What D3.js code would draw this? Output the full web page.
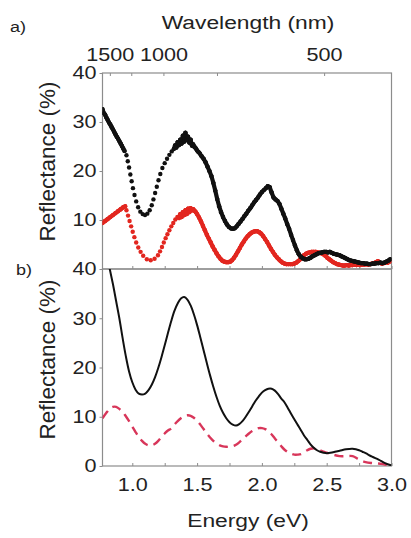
<!DOCTYPE html>
<html>
<head>
<meta charset="utf-8">
<script src="https://cdn.jsdelivr.net/npm/d3@7"></script>
<style>
  html, body { margin: 0; padding: 0; background: #fff; }
  svg text { font-family: "Liberation Sans", Arial, sans-serif; fill: #222; }
  .sx  { transform-box: fill-box; transform-origin: center;       transform: scaleX(1.2); }
  .sxr { transform-box: fill-box; transform-origin: right center; transform: scaleX(1.2); }
</style>
</head>
<body>
<svg id="chart" width="411" height="538"></svg>
<script>
// ---- measured reflectance, panel a) (energy in eV, reflectance in %) ----
const measBlackE = [0.770,0.780,0.790,0.800,0.810,0.820,0.830,0.840,0.850,0.860,0.870,0.880,0.890,0.900,0.910,0.920,0.930,0.940,
  0.955,0.965,0.975,0.985,0.995,1.005,1.017,1.030,1.045,1.062,1.080,1.098,1.116,1.134,1.150,1.163,1.176,1.189,1.202,1.216,1.232,1.250,1.268,1.286,1.304,
  1.320,1.330,1.340,1.350,1.360,1.370,1.380,1.390,1.400,1.410,1.420,1.430,1.440,1.450,1.460,1.470,1.480,1.490,1.500,1.510,1.520,
  1.535,1.550,1.565,1.580,1.595,1.610,1.625,1.640,1.655,1.670,1.685,1.700,1.715,1.730,1.745,1.760,1.775,1.790,1.805,1.820,1.835,1.850,1.865,1.880,1.895,
  1.910,1.925,1.940,1.955,1.970,1.985,2.000,2.015,2.030,2.045,2.060,2.075,2.090,2.105,2.120,2.135,2.150,2.165,2.180,2.195,2.210,2.225,2.240,2.255,2.270,
  2.285,2.300,2.315,2.330,2.345,2.360,2.375,2.390,2.405,2.420,2.435,2.450,2.465,2.480,2.495,2.510,2.525,2.540,2.555,2.570,2.585,2.600,2.615,2.630,2.645,
  2.660,2.675,2.690,2.705,2.720,2.735,2.750,2.765,2.780,2.795,2.810,2.825,2.840,2.855,2.870,2.885,2.900,2.915,2.930,2.945,2.960,2.975,2.990];
const measBlackR = [32.6,31.8,31.5,30.9,30.4,29.9,29.5,29.0,28.5,28.0,27.5,27.0,26.6,26.1,25.6,25.1,24.6,24.1,
  23.2,22.0,20.7,19.3,17.9,16.5,15.1,13.8,12.6,11.7,11.2,11.0,11.3,12.0,13.0,14.2,15.5,16.8,18.1,19.4,20.6,21.6,22.5,23.3,24.0,
  24.5,25.2,24.8,25.9,25.3,26.4,25.6,27.2,26.0,27.8,26.3,27.0,25.8,26.4,25.2,25.4,24.9,24.6,24.2,23.9,23.6,
  23.0,22.5,21.8,20.9,20.0,19.0,17.6,16.0,14.3,12.8,11.6,10.6,9.8,9.1,8.6,8.3,8.2,8.3,8.7,9.2,9.7,10.2,10.8,11.3,11.9,
  12.4,13.0,13.6,14.1,14.6,15.2,15.7,16.1,16.5,16.9,16.7,15.6,14.6,14.2,13.9,13.3,12.3,11.3,10.3,9.2,8.2,7.0,5.9,4.8,3.8,
  3.0,2.5,2.2,2.0,2.0,2.1,2.3,2.6,2.8,3.0,3.2,3.3,3.4,3.5,3.5,3.4,3.5,3.3,3.1,3.0,2.9,2.8,2.6,2.4,2.2,
  2.0,1.8,1.7,1.6,1.5,1.4,1.3,1.2,1.2,1.1,1.1,1.0,1.0,1.1,1.1,1.2,1.2,1.3,1.2,1.3,1.5,1.7,2.0];

const measRedE = [0.770,0.790,0.810,0.830,0.850,0.870,0.890,0.910,0.930,0.945,
  0.955,0.967,0.979,0.991,1.003,1.016,1.030,1.046,1.064,1.084,1.112,1.142,1.172,1.198,1.214,1.229,1.243,1.257,1.271,1.286,1.301,1.316,1.332,1.348,
  1.360,1.370,1.380,1.390,1.400,1.410,1.420,1.430,1.440,1.450,1.460,1.470,1.480,1.490,1.500,
  1.515,1.530,1.545,1.560,1.575,1.590,1.605,1.620,1.635,1.650,1.665,1.680,1.695,1.710,1.725,1.740,1.755,1.770,1.785,1.800,
  1.815,1.830,1.845,1.860,1.875,1.890,1.905,1.920,1.935,1.950,1.965,1.980,1.995,2.010,2.025,2.040,2.055,2.070,2.085,2.100,
  2.115,2.130,2.145,2.160,2.175,2.190,2.205,2.220,2.235,2.250,2.265,2.280,2.295,2.310,2.325,2.340,2.355,2.370,2.385,2.400,
  2.415,2.430,2.445,2.460,2.475,2.490,2.505,2.520,2.535,2.550,2.565,2.580,2.595,2.610,2.625,2.640,2.655,2.670,2.685,2.700,
  2.715,2.730,2.745,2.760,2.775,2.790,2.805,2.820,2.835,2.850,2.865,2.880,2.895,2.910,2.925,2.940,2.955,2.970,2.985];
const measRedR = [9.4,9.8,10.2,10.6,11.0,11.4,11.8,12.2,12.6,12.8,
  12.0,10.9,9.8,8.7,7.6,6.5,5.4,4.4,3.5,2.7,2.0,1.8,2.1,2.8,3.6,4.5,5.4,6.3,7.1,7.9,8.7,9.4,10.1,10.6,
  10.4,11.2,10.6,11.6,11.0,12.0,11.2,12.3,11.6,12.4,12.0,12.2,11.9,11.6,11.2,
  10.5,9.7,8.8,7.9,7.0,6.2,5.4,4.6,3.9,3.2,2.6,2.1,1.7,1.5,1.4,1.4,1.5,1.8,2.3,2.9,
  3.6,4.3,5.0,5.6,6.2,6.7,7.1,7.4,7.6,7.7,7.7,7.5,7.2,6.7,6.1,5.5,4.8,4.1,3.5,2.9,
  2.4,2.0,1.6,1.3,1.1,1.0,1.0,1.0,1.0,1.1,1.3,1.6,2.0,2.4,2.8,3.1,3.3,3.4,3.5,3.5,
  3.5,3.4,3.3,3.2,3.0,2.7,2.3,2.0,1.7,1.4,1.2,1.0,0.9,0.8,0.7,0.7,0.8,0.7,0.8,0.8,
  0.9,0.8,0.9,0.8,0.9,0.9,1.0,0.9,1.0,1.1,1.2,1.4,1.6,1.3,1.1,1.2,1.4,1.3,1.5];

// ---- calculated reflectance, panel b) ----
const calcBlackE = [0.800,0.826,0.850,0.875,0.900,0.925,0.950,0.975,1.000,1.025,1.050,1.075,1.100,1.125,1.150,1.175,1.200,1.225,1.250,1.275,
  1.300,1.325,1.350,1.375,1.400,1.425,1.450,1.475,1.500,1.525,1.550,1.575,1.600,1.625,1.650,1.675,1.700,1.725,1.750,1.775,
  1.800,1.825,1.850,1.875,1.900,1.925,1.950,1.975,2.000,2.025,2.050,2.075,2.100,2.125,2.150,2.175,2.200,2.225,2.250,2.275,
  2.300,2.325,2.350,2.375,2.400,2.425,2.450,2.475,2.500,2.550,2.600,2.650,2.700,2.725,2.750,2.775,2.800,2.850,2.900,2.950,3.000];
const calcBlackR = [43.5,40.0,37.0,33.5,30.0,26.0,22.3,19.2,17.0,15.5,14.7,14.5,14.7,15.4,16.5,18.0,19.9,22.1,24.5,27.0,
  29.4,31.5,33.0,34.0,34.3,33.8,32.6,30.8,28.6,26.1,23.5,20.9,18.4,16.1,14.0,12.2,10.8,9.7,8.9,8.4,
  8.2,8.5,9.1,10.0,11.0,12.1,13.2,14.1,14.9,15.4,15.7,15.7,15.3,14.6,13.7,12.9,11.8,10.6,9.5,8.4,
  7.3,6.2,5.3,4.4,3.7,3.2,2.9,2.7,2.6,2.8,3.1,3.4,3.5,3.4,3.2,2.9,2.6,1.9,1.3,0.6,0.1];

const calcRedE = [0.770,0.800,0.825,0.850,0.875,0.900,0.925,0.950,0.975,1.000,1.025,1.050,1.075,1.100,1.125,1.150,1.175,1.200,1.225,1.250,1.275,
  1.300,1.325,1.350,1.375,1.400,1.425,1.450,1.475,1.500,1.525,1.550,1.575,1.600,1.625,1.650,1.675,1.700,1.725,1.750,1.775,
  1.800,1.825,1.850,1.875,1.900,1.925,1.950,1.975,2.000,2.025,2.050,2.075,2.100,2.125,2.150,2.175,2.200,2.225,2.250,2.275,
  2.300,2.325,2.350,2.375,2.400,2.425,2.450,2.475,2.500,2.525,2.550,2.600,2.650,2.700,2.750,2.800,2.850,2.900,2.950,3.000];
const calcRedR = [9.7,10.8,11.6,12.0,12.0,11.6,11.0,10.1,9.1,8.0,6.9,5.9,5.1,4.5,4.2,4.2,4.5,5.1,5.9,6.6,7.2,
  7.6,8.4,9.1,9.7,10.1,10.3,10.2,9.8,9.2,8.4,7.5,6.6,5.8,5.1,4.6,4.2,4.0,3.9,3.9,4.0,
  4.3,4.8,5.4,6.0,6.6,7.1,7.5,7.7,7.7,7.5,7.0,6.4,5.6,4.8,4.0,3.3,2.8,2.5,2.3,2.3,
  2.4,2.8,3.2,3.5,3.6,3.5,3.2,2.9,2.7,2.5,2.3,2.0,2.0,2.0,1.3,0.8,0.6,0.5,0.3,0.1];

// ---- axis ticks ----
const energyTicks = [1.0,1.25,1.5,1.75,2.0,2.25,2.5,2.75,3.0];
const energyLabels = ["1.0","","1.5","","2.0","","2.5","","3.0"];
const wavelengthTicks = [1500,1250,1000,750,500];
const wavelengthLabels = ["1500","","1000","","500"];
const topYTicks = [10,20,30,40];
const botYTicks = [0,10,20,30,40];

// ---- layout ----
const L = 102.5, R = 391.5, T = 73, M = 269, B = 466;
const svg = d3.select("#chart");

const x = d3.scaleLinear().domain([0.77, 3.0]).range([L, R]);
const yA = d3.scaleLinear().domain([0, 40]).range([M, T]);
const yB = d3.scaleLinear().domain([0, 40]).range([B, M]);

const defs = svg.append("defs");
defs.append("clipPath").attr("id", "clipA").append("rect")
  .attr("x", L).attr("y", T).attr("width", R - L).attr("height", M - T);
defs.append("clipPath").attr("id", "clipB").append("rect")
  .attr("x", L).attr("y", M).attr("width", R - L).attr("height", B - M);

const axisColor = "#8c8c8c";
function styleAxis(g, cls) {
  g.select(".domain").remove();
  g.selectAll(".tick line").attr("stroke", axisColor).attr("stroke-width", 1);
  g.selectAll(".tick text").attr("font-size", 18).attr("fill", "#222")
    .attr("font-family", "Liberation Sans, Arial, sans-serif").attr("class", cls);
}

// top axis: wavelength (nm), positioned through energy = 1240 / wavelength
svg.append("g").attr("transform", `translate(0,${T})`)
  .call(d3.axisTop(x).tickValues(wavelengthTicks.map(w => 1240 / w))
    .tickFormat((d, i) => wavelengthLabels[i]).tickSizeInner(-3).tickSizeOuter(0).tickPadding(12))
  .call(g => styleAxis(g, "sx"));

// shared axis between the panels
svg.append("g").attr("transform", `translate(0,${M})`)
  .call(d3.axisBottom(x).tickValues(energyTicks).tickFormat("").tickSizeInner(-3).tickSizeOuter(0))
  .call(g => styleAxis(g, "sx"));

// bottom axis: energy (eV)
svg.append("g").attr("transform", `translate(0,${B})`)
  .call(d3.axisBottom(x).tickValues(energyTicks).tickFormat((d, i) => energyLabels[i])
    .tickSizeInner(-3).tickSizeOuter(0).tickPadding(12))
  .call(g => styleAxis(g, "sx"));

// left axes
svg.append("g").attr("transform", `translate(${L},0)`)
  .call(d3.axisLeft(yA).tickValues(topYTicks).tickSizeInner(3).tickSizeOuter(0).tickPadding(3))
  .call(g => styleAxis(g, "sxr"));
svg.append("g").attr("transform", `translate(${L},0)`)
  .call(d3.axisLeft(yB).tickValues(botYTicks).tickSizeInner(3).tickSizeOuter(0).tickPadding(3))
  .call(g => styleAxis(g, "sxr"));

// panel frames
[[T, M], [M, B]].forEach(([a, b]) => {
  svg.append("rect").attr("x", L).attr("y", a).attr("width", R - L).attr("height", b - a)
    .attr("fill", "none").attr("stroke", axisColor).attr("stroke-width", 1.2);
});

// measured spectra: dot markers; outside the sparse energy window the samples
// crowd together and are joined into a solid band
function drawMeasured(E, Rv, color, sparseFrom, sparseTo) {
  const g = svg.append("g").attr("clip-path", "url(#clipA)");
  const pts = E.map((e, i) => ({ e, px: x(e), py: yA(Rv[i]) }));
  const inSparse = p => p.e >= sparseFrom && p.e <= sparseTo;
  const segs = [];
  for (let i = 1; i < pts.length; i++) {
    if (!inSparse(pts[i - 1]) && !inSparse(pts[i])) segs.push([pts[i - 1], pts[i]]);
  }
  g.selectAll("line").data(segs).join("line")
    .attr("x1", d => d[0].px).attr("y1", d => d[0].py)
    .attr("x2", d => d[1].px).attr("y2", d => d[1].py)
    .attr("stroke", color).attr("stroke-width", 4.2).attr("stroke-linecap", "round");
  g.selectAll("circle").data(pts).join("circle")
    .attr("cx", d => d.px).attr("cy", d => d.py).attr("r", 2.2).attr("fill", color);
}
drawMeasured(measRedE, measRedR, "#e2261f", 0.95, 1.35);
drawMeasured(measBlackE, measBlackR, "#111111", 0.95, 1.31);

// calculated spectra
const lineB = (E, Rv) => d3.line().x((d, i) => x(E[i])).y((d, i) => yB(Rv[i])).curve(d3.curveCatmullRom)(E);
const gB = svg.append("g").attr("clip-path", "url(#clipB)");
gB.append("path").attr("d", lineB(calcRedE, calcRedR)).attr("fill", "none")
  .attr("stroke", "#d8365a").attr("stroke-width", 2.4).attr("stroke-dasharray", "9,6");
gB.append("path").attr("d", lineB(calcBlackE, calcBlackR)).attr("fill", "none")
  .attr("stroke", "#111111").attr("stroke-width", 2);

// titles
svg.append("text").attr("class", "sx").attr("x", 248).attr("y", 29).attr("text-anchor", "middle")
  .attr("font-size", 19).text("Wavelength (nm)");
svg.append("text").attr("class", "sx").attr("x", 248).attr("y", 527).attr("text-anchor", "middle")
  .attr("font-size", 19).text("Energy (eV)");
[[161.5], [359.5]].forEach(([cy]) => {
  svg.append("g").attr("transform", `translate(55,${cy}) rotate(-90)`)
    .append("text").attr("text-anchor", "middle").attr("font-size", 22.5).text("Reflectance (%)");
});
svg.append("text").attr("class", "sx").attr("x", 18).attr("y", 32).attr("text-anchor", "middle")
  .attr("font-size", 15).text("a)");
svg.append("text").attr("class", "sx").attr("x", 24).attr("y", 275).attr("text-anchor", "middle")
  .attr("font-size", 15).text("b)");
</script>
</body>
</html>
